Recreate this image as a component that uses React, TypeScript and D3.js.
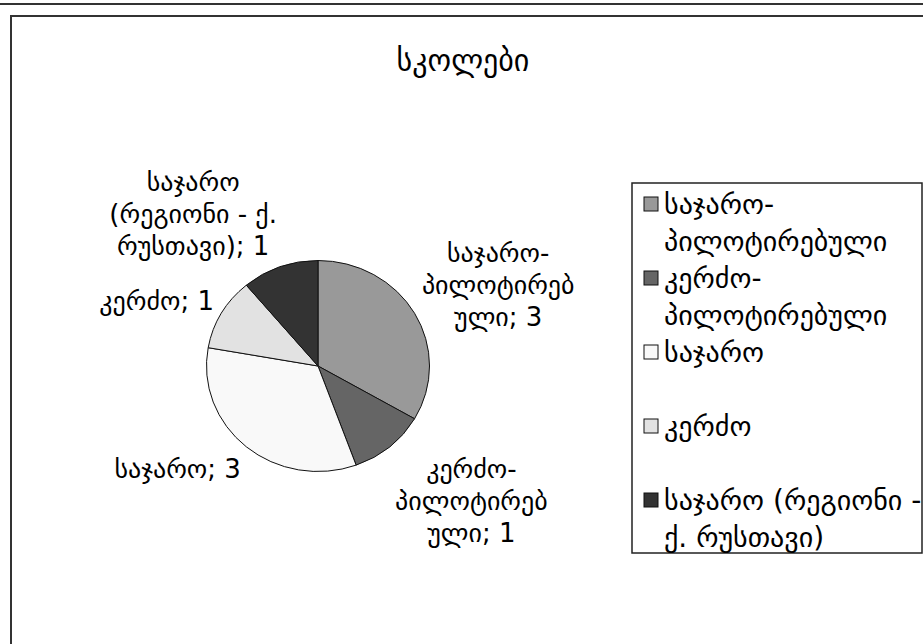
import React, { useRef, useEffect } from 'react';
import * as d3 from 'd3';

const TITLE = 'სკოლები';
const CATEGORIES = [
  'საჯარო-პილოტირებული',
  'კერძო-პილოტირებული',
  'საჯარო',
  'კერძო',
  'საჯარო (რეგიონი - ქ. რუსთავი)',
];
const VALUES = [3, 1, 3, 1, 1];
const COLORS = ['#999999', '#656565', '#f9f9f9', '#e2e2e2', '#333333'];
// how the category names wrap in the data labels and in the legend
const LABEL_WRAP = [
  ['საჯარო-', 'პილოტირებ', 'ული'],
  ['კერძო-', 'პილოტირებ', 'ული'],
  ['საჯარო'],
  ['კერძო'],
  ['საჯარო', '(რეგიონი - ქ.', 'რუსთავი)'],
];
const LEGEND_WRAP = [
  ['საჯარო-', 'პილოტირებული'],
  ['კერძო-', 'პილოტირებული'],
  ['საჯარო'],
  ['კერძო'],
  ['საჯარო (რეგიონი -', 'ქ. რუსთავი)'],
];

const W = 923;
const H = 644;
const FONT = 'DejaVu Sans, sans-serif';

export default function App() {
  const svgRef = useRef<SVGSVGElement>(null);

  useEffect(() => {
    const svg = d3.select(svgRef.current);
    svg.selectAll('*').remove();

    svg.append('rect').attr('width', W).attr('height', H).attr('fill', '#fff');

    // outer frames
    svg.append('line')
      .attr('x1', 0).attr('x2', W).attr('y1', 4).attr('y2', 4)
      .attr('stroke', '#333').attr('stroke-width', 2);
    svg.append('rect')
      .attr('x', 11).attr('y', 16).attr('width', W + 20).attr('height', H + 20)
      .attr('fill', 'none').attr('stroke', '#333').attr('stroke-width', 2);

    // title
    svg.append('text')
      .attr('x', 463).attr('y', 60).attr('dy', '0.35em')
      .attr('text-anchor', 'middle')
      .attr('font-family', FONT).attr('font-size', 30)
      .text(TITLE);

    // pie
    const cx = 318, cy = 366, r = 105.5, sx = 1.057;
    const pie = d3.pie<number>().sort(null).value(d => d);
    const arcs = pie(VALUES);
    const arc = d3.arc<d3.PieArcDatum<number>>().innerRadius(0).outerRadius(r);

    const g = svg.append('g').attr('transform', `translate(${cx},${cy}) scale(${sx},1)`);
    g.selectAll('path')
      .data(arcs)
      .join('path')
      .attr('d', arc)
      .attr('fill', (d, i) => COLORS[i])
      .attr('stroke', '#111')
      .attr('stroke-width', 1)
      .attr('vector-effect', 'non-scaling-stroke');

    // data labels, pushed outside the pie along the slice's middle direction
    const labelSize = 26;
    const labelLH = 32;
    const gap = 8;
    arcs.forEach((a, i) => {
      const lines = LABEL_WRAP[i].slice();
      lines[lines.length - 1] += `; ${VALUES[i]}`;
      const mid = (a.startAngle + a.endAngle) / 2;
      const dx = Math.sin(mid), dy = -Math.cos(mid);
      const px = cx + dx * (r + gap) * sx;
      const py = cy + dy * (r + gap);

      const t = svg.append('text')
        .attr('font-family', FONT).attr('font-size', labelSize)
        .attr('text-anchor', 'middle');
      const spans = lines.map(l => t.append('tspan').attr('x', 0).attr('y', 0).text(l));
      const w = d3.max(spans, s => (s.node() as SVGTSpanElement).getComputedTextLength()) || 0;
      const h = lines.length * labelLH;
      const mx = px + Math.sign(dx) * w / 2;
      // labels under the centre hang fully below their anchor
      const my = py + (dy < 0 ? dy : 1) * h / 2;
      spans.forEach((s, j) => s
        .attr('x', mx)
        .attr('y', my - h / 2 + labelLH * (j + 0.5))
        .attr('dy', '0.35em'));
    });

    // legend: every entry gets a two-line slot
    const lx = 632, ly = 183, lw = 290, lh = 370;
    svg.append('rect')
      .attr('x', lx).attr('y', ly).attr('width', lw).attr('height', lh)
      .attr('fill', '#fff').attr('stroke', '#222').attr('stroke-width', 1.5);

    const legendLH = 37;
    const rowY = d3.scaleLinear().domain([0, CATEGORIES.length - 1]).range([204, 204 + 4 * 2 * legendLH]);
    CATEGORIES.forEach((c, i) => {
      const y = rowY(i);
      svg.append('rect')
        .attr('x', 644).attr('y', y - 7).attr('width', 14).attr('height', 14)
        .attr('fill', COLORS[i]).attr('stroke', '#111').attr('stroke-width', 1);
      const t = svg.append('text')
        .attr('font-family', FONT).attr('font-size', 28);
      LEGEND_WRAP[i].forEach((l, j) => {
        t.append('tspan')
          .attr('x', 664)
          .attr('y', y + j * legendLH)
          .attr('dy', '0.35em')
          .text(l);
      });
    });
  }, []);

  return (
    <svg
      ref={svgRef}
      width={W}
      height={H}
      viewBox={`0 0 ${W} ${H}`}
      style={{ position: 'absolute', left: 0, top: 0, display: 'block' }}
    />
  );
}
